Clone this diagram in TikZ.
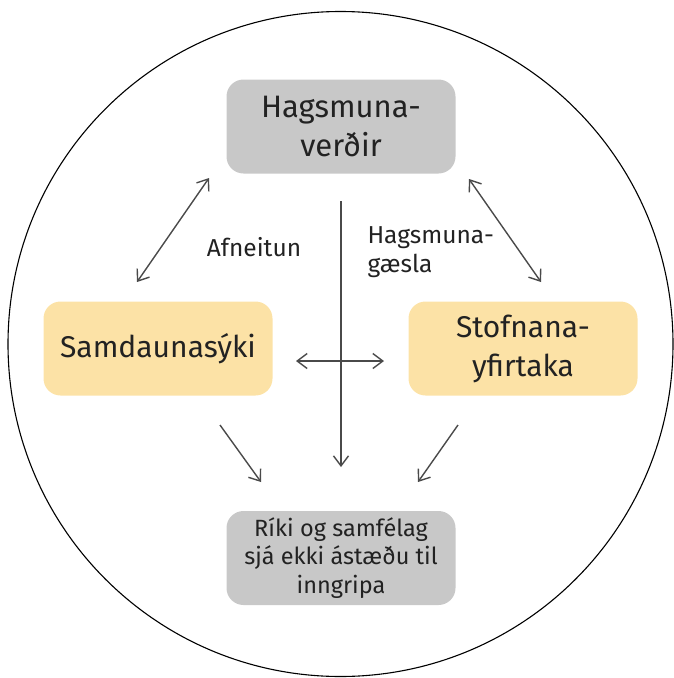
\documentclass[tikz,border=0pt]{standalone}
\usepackage{fontspec}
\setmainfont{Fira Sans}
\usetikzlibrary{arrows.meta}
\definecolor{boxgray}{HTML}{C8C8C8}
\definecolor{boxyellow}{HTML}{FCE2A6}
\definecolor{arrgray}{HTML}{4A4A4A}
\definecolor{txt}{HTML}{222222}
\tikzset{
  box/.style={rounded corners=17pt, minimum width=229pt, minimum height=94pt, align=center, text=txt, inner sep=0pt},
  graybox/.style={box, fill=boxgray},
  yelbox/.style={box, fill=boxyellow},
  conn/.style={draw=arrgray, line width=1.4pt, -{Straight Barb[length=10pt,width=15pt,line width=1.4pt]}},
  dconn/.style={conn, {Straight Barb[length=10pt,width=15pt,line width=1.4pt]}-{Straight Barb[length=10pt,width=15pt,line width=1.4pt]}},
  lbl/.style={text=txt, font=\fontsize{24.5}{29}\selectfont}
}
\begin{document}
\begin{tikzpicture}[x=1pt,y=-1pt]
\useasboundingbox (0,0) rectangle (674,678);
\draw[black, line width=1.1pt] (340.5,344) circle (332.5pt);
\node[graybox, font=\fontsize{31}{39}\selectfont] (top) at (341,126.5) {Hagsmuna-\\ver\dh{}ir};
\node[yelbox, font=\fontsize{30}{42}\selectfont] (left) at (158,348.5) {Samdaunas\'yki};
\node[yelbox, font=\fontsize{30}{39}\selectfont] (right) at (523,348.5) {Stofnana-\\yfirtaka};
\node[graybox, font=\fontsize{23.5}{28.5}\selectfont] (bot) at (341,558) {R\'iki og samf\'elag\\sj\'a ekki \'ast\ae\dh{}u til\\inngripa};
\node[lbl, anchor=center] (afn) at (254,247) {Afneitun};
\node[lbl, anchor=west, align=left] (hg) at (364,252) {Hagsmuna-\\g\ae sla};
\coordinate (l1) at (209,178);
\coordinate (l2) at (137,282);
\coordinate (r1) at (469,179);
\coordinate (r2) at (541,282);
\coordinate (v1) at (341,201);
\coordinate (v2) at (341,467);
\coordinate (h1) at (296,361);
\coordinate (h2) at (384,361);
\coordinate (bl1) at (220,425);
\coordinate (bl2) at (261,482);
\coordinate (br1) at (458,425);
\coordinate (br2) at (418,482);
\draw[dconn] (l1) -- (l2);
\draw[dconn] (r1) -- (r2);
\draw[conn] (v1) -- (v2);
\draw[dconn] (h1) -- (h2);
\draw[conn] (bl1) -- (bl2);
\draw[conn] (br1) -- (br2);
\end{tikzpicture}
\end{document}
